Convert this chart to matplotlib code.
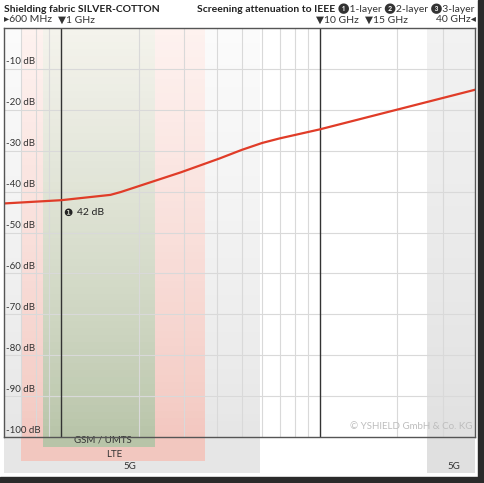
import numpy as np
import matplotlib
matplotlib.use("Agg")
import matplotlib.pyplot as plt
from matplotlib.patches import Rectangle

plt.rcParams['font.family'] = ['Lato', 'DejaVu Sans']

# attenuation curve (1-layer), frequency in GHz
freq = [0.6, 1.0, 1.55, 1.7, 2.9, 4.1, 5.0, 6.0, 7.0, 10.0, 40.0]
atten = [-42.9, -42.1, -40.8, -40.1, -35.3, -31.9, -29.8, -28.1, -27.0, -24.8, -15.1]

# frequency bands (GHz): name, start, end, bottom (dB), colour bottom, colour top
band_names = ['5G', '5G', 'LTE', 'GSM / UMTS']
band_lo = [0.6, 26.0, 0.7, 0.85]
band_hi = [5.9, 40.0, 3.6, 2.3]
band_bottom = [-108.8, -108.8, -105.9, -102.5]
band_col_low = [(0.90, 0.90, 0.90), (0.88, 0.88, 0.88), (0.95, 0.78, 0.75), (0.72, 0.77, 0.66)]
band_col_high = [(0.985, 0.985, 0.985), (0.95, 0.95, 0.95), (0.995, 0.95, 0.94), (0.96, 0.955, 0.93)]
band_label_x = [1.85, 33.0, 1.6, 1.45]

grid_minor = [0.7, 0.8, 0.9, 2, 3, 4, 5, 6, 7, 8, 9, 20, 30]
grid_major = [1, 10]
db_ticks = [-10, -20, -30, -40, -50, -60, -70, -80, -90, -100]

top_marks = ['\u25B8600 MHz', '\u25BC1 GHz', '\u25BC10 GHz', '\u25BC15 GHz']
top_marks_x = [0.6, 1.0, 10.0, 15.5]

fig = plt.figure(figsize=(4.85, 4.83), dpi=100)
ax = fig.add_axes([4/485, 1 - 437/483, 471/485, 409/483])
ax.set_xscale('log')
ax.set_xlim(0.6, 40)
ax.set_ylim(-100, 0)
ax.set_xticks([])
ax.set_yticks([])
ax.minorticks_off()

# gradient bands, drawn as thin strips
n = 60
for lo, hi, bot, c0, c1 in zip(band_lo, band_hi, band_bottom, band_col_low, band_col_high):
    edges = np.linspace(bot, 0, n + 1)
    for i in range(n):
        t = max(0.0, (edges[i] + 100) / 100) ** 0.8
        col = tuple(a + (b - a) * t for a, b in zip(c0, c1))
        ax.fill_between([lo, hi], edges[i], edges[i + 1], color=col, lw=0,
                        clip_on=False, zorder=0)

for name, xl, bot in zip(band_names, band_label_x, band_bottom):
    ax.text(xl, bot + 0.6, name, ha='center', va='bottom', fontsize=7,
            color='#333333', clip_on=False)

# grid
for g in grid_minor:
    ax.axvline(g, color='#d9d9d9', lw=0.8, zorder=1)
for d in db_ticks[:-1]:
    ax.axhline(d, color='#d9d9d9', lw=0.8, zorder=1)
for g in grid_major:
    ax.axvline(g, color='#333333', lw=1.0, zorder=2)

for d in db_ticks:
    ax.text(0.612, d + 0.6, '%d dB' % d, fontsize=7, color='#333333',
            ha='left', va='bottom', zorder=3)

ax.plot(freq, atten, color='#e03c28', lw=1.6, zorder=4)

ax.text(1.015, -44.0, '\u2776', fontsize=7.5, color='#222222', va='top', ha='left',
        family=['DejaVu Sans'])
ax.text(1.15, -44.0, '42 dB', fontsize=7.5, color='#222222', va='top', ha='left')

ax.text(39.0, -98.6, '\u00A9 YSHIELD GmbH & Co. KG', fontsize=7, color='#bdbdbd',
        ha='right', va='bottom', zorder=3)

for s in ax.spines.values():
    s.set_color('#555555')
    s.set_linewidth(1.0)
    s.set_zorder(5)

# header text
fig.text(4/485, 1 - 9/483, 'Shielding fabric SILVER-COTTON', fontsize=7.5,
         fontweight='bold', color='#222222', va='center', ha='left')
layers = fig.text(475/485, 1 - 9/483,
                  '\u27761-layer \u27772-layer \u27783-layer', fontsize=7.5,
                  color='#333333', va='center', ha='right')
r = fig.canvas.get_renderer()
bb = layers.get_window_extent(renderer=r)
fig.text((bb.x0 - 3) / fig.bbox.width, 1 - 9/483, 'Screening attenuation to IEEE',
         fontsize=7.5, fontweight='bold', color='#222222', va='center', ha='right')

for lab, fx in zip(top_marks, top_marks_x):
    xd = ax.transData.transform((fx, 0))[0]
    xf = fig.transFigure.inverted().transform((xd, 0))[0]
    off = 0 if fx == 0.6 else -3.5/485
    fig.text(xf + off, 1 - 20/483, lab, fontsize=7.5, color='#333333',
             va='center', ha='left')
fig.text(476/485, 1 - 20/483, '40 GHz\u25C2', fontsize=7.5, color='#333333',
         va='center', ha='right')

# dark screenshot frame at right and bottom
fig.patches.append(Rectangle((478/485, 0), 7/485, 1, transform=fig.transFigure,
                             color='#2a2a2a', zorder=-1))
fig.patches.append(Rectangle((0, 0), 1, 6/483, transform=fig.transFigure,
                             color='#2a2a2a', zorder=-1))

fig.savefig('out.png', dpi=100)
